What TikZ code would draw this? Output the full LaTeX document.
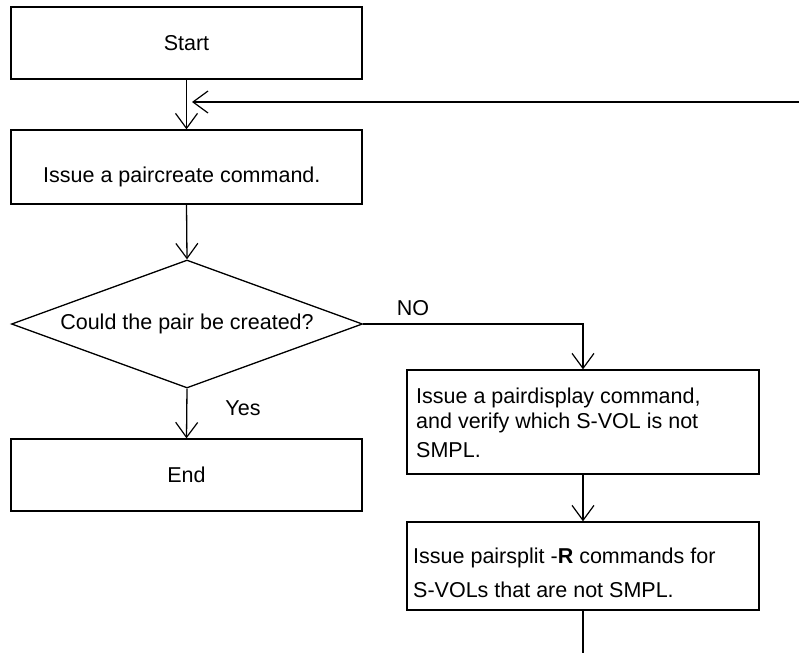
\documentclass[tikz,border=0pt]{standalone}
\usepackage{fontspec}
\setmainfont{Liberation Sans}
\usetikzlibrary{arrows.meta,shapes.geometric}
\begin{document}
\begin{tikzpicture}[x=1pt,y=-1pt,
  every node/.style={font=\fontsize{21.5}{25}\selectfont},
  box/.style={draw, line width=1.3pt, minimum width=351pt, inner sep=0pt},
  dec/.style={draw, diamond, line width=1.3pt, aspect=2.74, inner sep=0pt, minimum width=351pt, minimum height=128pt},
  txt/.style={anchor=base west, inner sep=0pt},
  arr/.style={line width=1.3pt, -{Straight Barb[length=15pt,width=22pt,line width=1.2pt]}},
  ln/.style={line width=1.3pt}]
\useasboundingbox (0,0) rectangle (799,653);
\node[box, minimum height=72pt] (start) at (186.5,43) {Start};
\node[box, minimum height=74pt] (issue) at (186.5,167) {};
\node[txt] (issuet) at (43,182) {Issue a paircreate command.};
\node[dec] (q) at (187,324) {Could the pair be created?};
\node[box, minimum height=72pt] (end) at (186.5,475) {End};
\node[box, minimum width=352pt, minimum height=104pt] (disp) at (583,422) {};
\node[txt] (disp1) at (416,403) {Issue a pairdisplay command,};
\node[txt] (disp2) at (416,428) {and verify which S-VOL is not};
\node[txt] (disp3) at (416,457) {SMPL.};
\node[box, minimum width=352pt, minimum height=88pt] (split) at (583,566) {};
\node[txt] (split1) at (413,563) {Issue pairsplit -\textbf{R} commands for};
\node[txt] (split2) at (413,597) {S-VOLs that are not SMPL.};
\node[anchor=center] (yes) at (243,408) {Yes};
\node[anchor=center] (no) at (413,308) {NO};
\coordinate (fb) at (799,102);
\coordinate (join) at (192,102);
\coordinate (outp) at (583,653);
\draw[arr] (start.south) -- (issue.north);
\draw[arr] (fb) -- (join);
\draw[arr] (issue.south) -- (q.north);
\draw[arr] (q.south) -- (end.north);
\draw[arr] (q.east) -| (disp.north);
\draw[arr] (disp.south) -- (split.north);
\draw[ln] (split.south) -- (outp);
\end{tikzpicture}
\end{document}
